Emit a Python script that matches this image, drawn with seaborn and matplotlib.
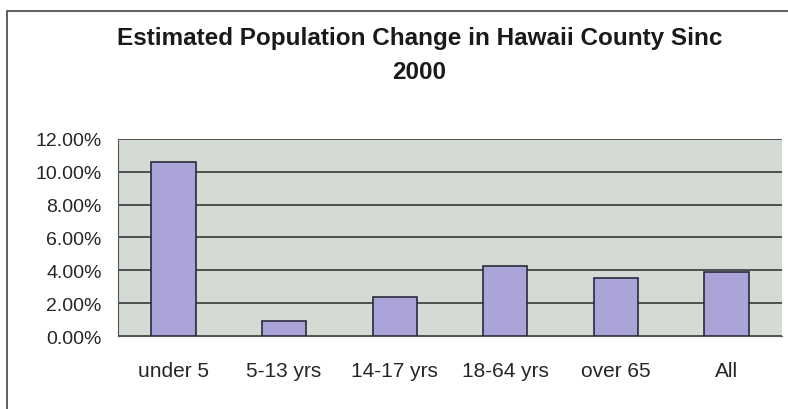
import numpy as np
import pandas as pd
import matplotlib
matplotlib.use("Agg")
import matplotlib.pyplot as plt
import seaborn as sns
from matplotlib.ticker import FuncFormatter, FixedLocator
from matplotlib.patches import Rectangle

# data
grupos = ["under 5", "5-13 yrs", "14-17 yrs", "18-64 yrs", "over 65", "All"]
variacao = [10.6, 0.93, 2.4, 4.25, 3.55, 3.9]
ticks_y = [0, 2, 4, 6, 8, 10, 12]

df = pd.DataFrame({"grupo": grupos, "variacao": variacao})

sns.set_style("white")
plt.rcParams["font.family"] = ["Liberation Sans", "DejaVu Sans"]

fig = plt.figure(figsize=(7.88, 4.10), dpi=100)
ax = fig.add_axes([0.150, 0.178, 0.842, 0.481])
ax.set_facecolor("#d4dbd5")

sns.barplot(data=df, x="grupo", y="variacao", ax=ax, color="#aaa4d8",
            edgecolor="#2a2a3a", linewidth=1.2, width=0.4, saturation=1)

ax.set_ylim(0, 12)
ax.set_xlim(-0.5, len(grupos) - 0.5)
ax.yaxis.set_major_locator(FixedLocator(ticks_y))
ax.yaxis.set_major_formatter(FuncFormatter(lambda v, p: f"{v:.2f}%"))
ax.grid(axis="y", color="#2b2b2b", linewidth=1.1)
ax.set_axisbelow(True)

ax.set_xlabel("")
ax.set_ylabel("")
for s in ["top", "right"]:
    ax.spines[s].set_visible(False)
ax.spines["left"].set_color("#555555")
ax.spines["bottom"].set_color("#555555")

ax.tick_params(axis="y", labelsize=14, length=10, width=1, color="#333333",
               direction="out", pad=2)
ax.tick_params(axis="x", labelsize=15, length=0, pad=18)
# small tick marks between categories
ax.set_xticks(np.arange(len(grupos) + 1) - 0.5, minor=True)
ax.tick_params(axis="x", which="minor", length=5, color="#666666", width=1)

fig.text(0.532, 0.905, "Estimated Population Change in Hawaii County Sinc",
         ha="center", va="center", fontsize=17.5, fontweight="bold", color="#1a1a1a")
fig.text(0.532, 0.822, "2000", ha="center", va="center", fontsize=17.5,
         fontweight="bold", color="#1a1a1a")

# outer frame of the chart object
fig.patches.append(Rectangle((7 / 788, -0.05), 1.2, 1 - 12 / 410 + 0.05,
                             transform=fig.transFigure, fill=False,
                             edgecolor="#444444", linewidth=1.2))

fig.savefig("out.png", dpi=100)
